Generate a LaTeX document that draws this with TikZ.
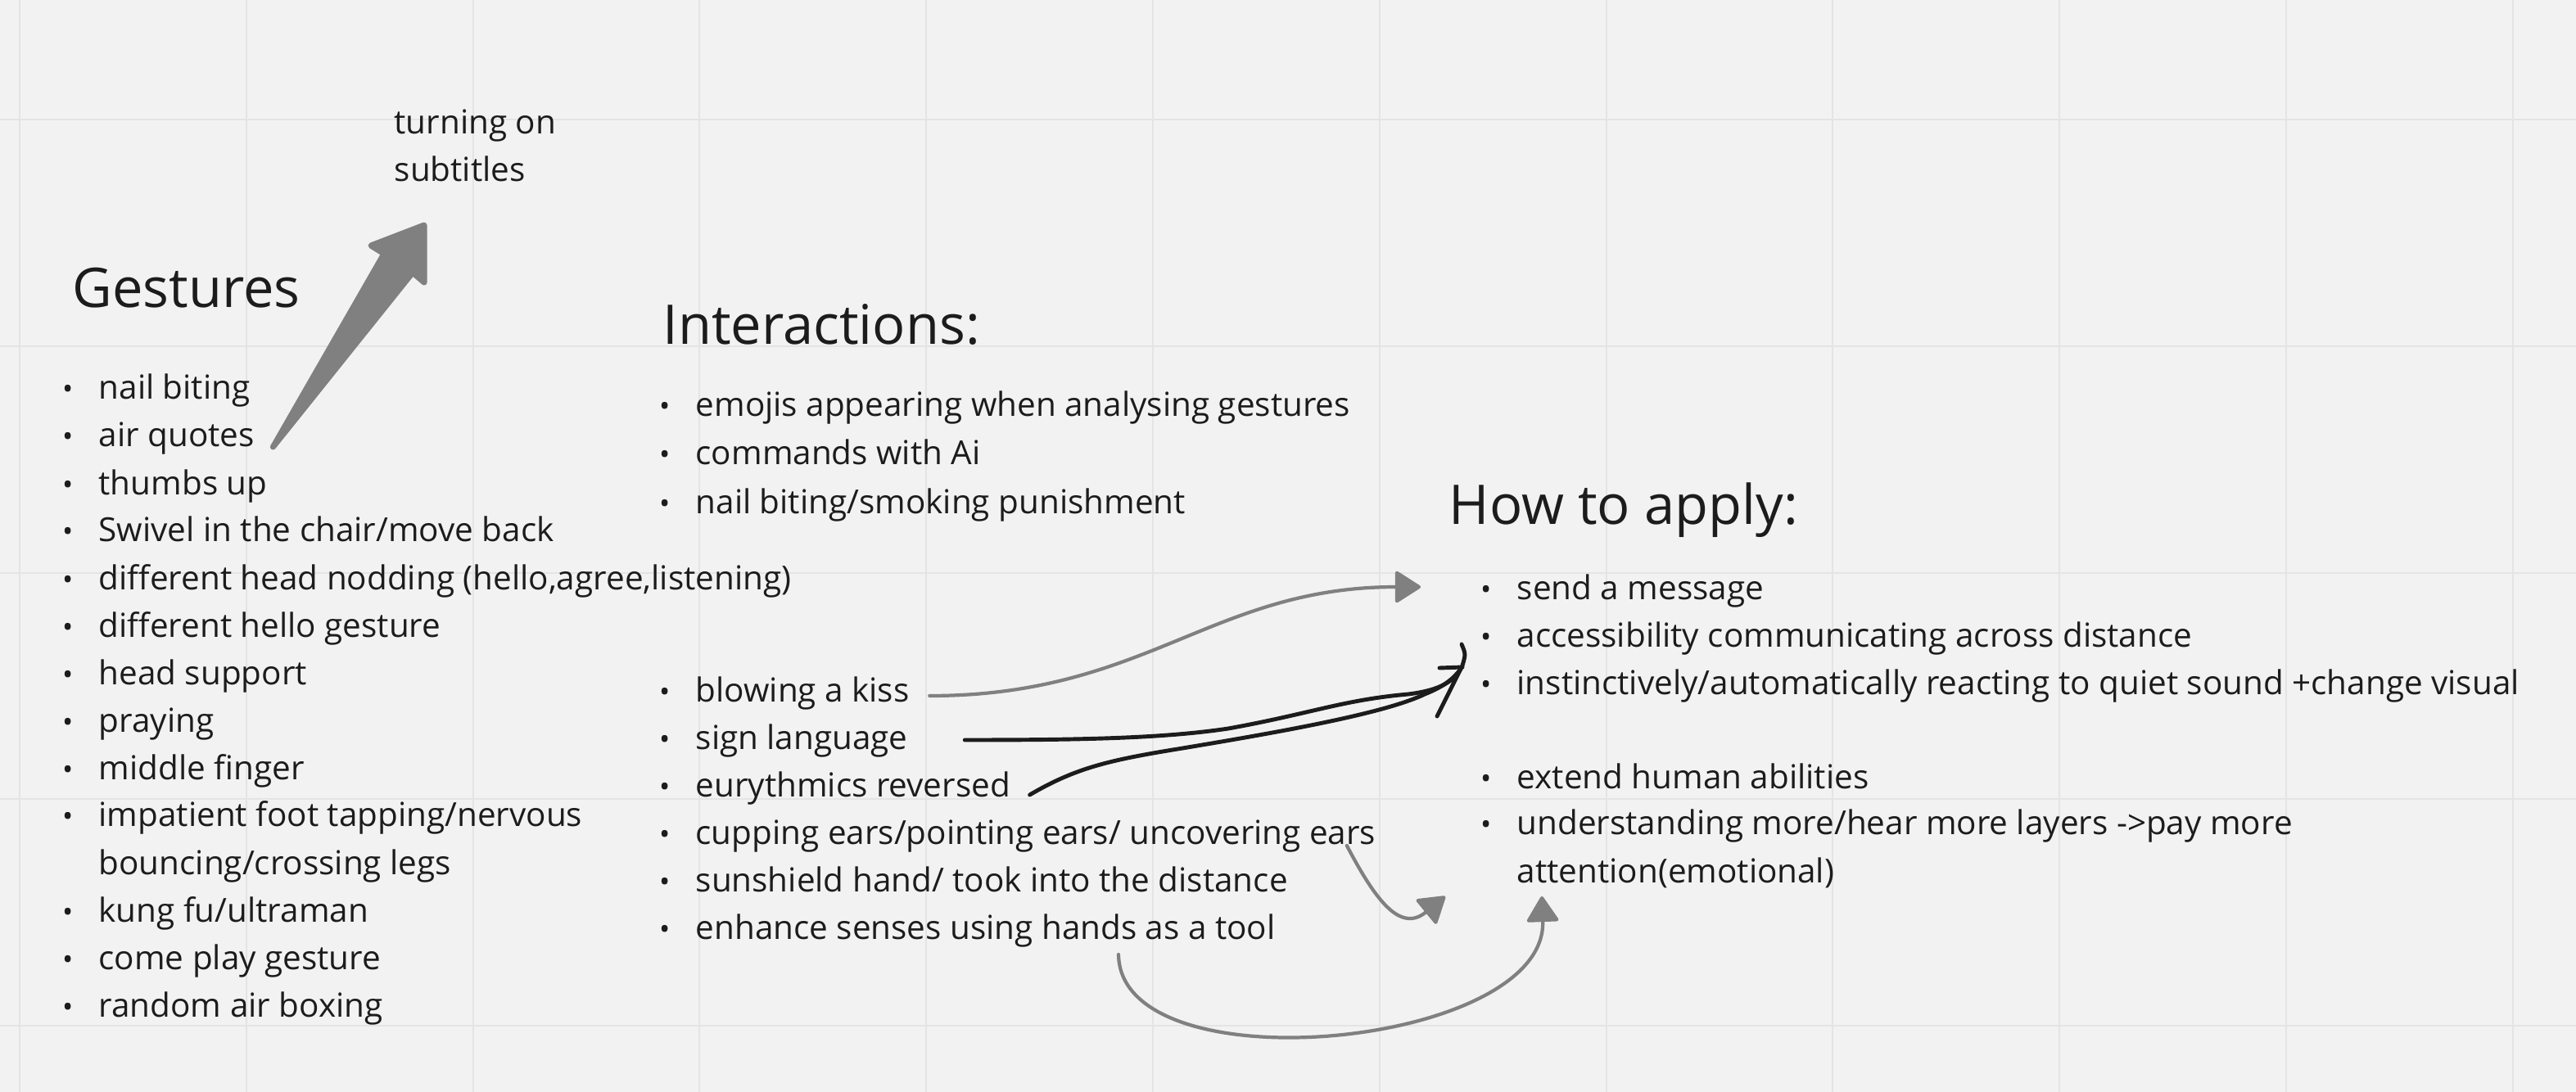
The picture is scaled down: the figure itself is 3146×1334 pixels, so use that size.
\documentclass[tikz,border=0pt]{standalone}
\usepackage{fontspec}
\setmainfont{Open Sans}
\usetikzlibrary{arrows.meta,calc}

\definecolor{paper}{HTML}{F2F2F2}
\definecolor{gridline}{HTML}{E4E4E4}
\definecolor{ink}{HTML}{1C1C1C}
\definecolor{pen}{HTML}{808080}

\newcommand{\listfont}{\fontsize{11.5pt}{16.5pt}\selectfont}
\newcommand{\headfont}{\fontsize{19pt}{23pt}\selectfont}
\newcommand{\bul}{\llap{{\fontsize{10pt}{10pt}\selectfont •}\hspace{8.9pt}}}

\begin{document}
\begin{tikzpicture}[
    x=0.01cm, y=-0.01cm,
    item/.style={anchor=base west, inner sep=0pt, align=left, font=\listfont, text=ink},
    head/.style={anchor=base west, inner sep=0pt, font=\headfont, text=ink},
    soft/.style={draw=pen, line width=1.2pt, line cap=round,
        -{Triangle[length=3.3mm, width=4.1mm, round]}},
    inkline/.style={draw=ink, line width=1.4pt, line cap=round, line join=round}
]

    %------------------------------------------------
    % board
    %------------------------------------------------
    \useasboundingbox (0,0) rectangle (3146,1334);
    \fill[paper] (0,0) rectangle (3146,1334);
    \foreach \k in {0,...,11}
        \draw[gridline, line width=0.6pt] ({24+276.8*\k},0) -- ({24+276.8*\k},1334);
    \foreach \k in {0,...,4}
        \draw[gridline, line width=0.6pt] (0,{146+276.8*\k}) -- (3146,{146+276.8*\k});

    %------------------------------------------------
    % Gestures (two-line items sit on their last baseline)
    %------------------------------------------------
    \node[head] (gest) at (88,376) {Gestures};
    \foreach \i/\y/\t in {1/488/{nail biting}, 2/546/{air quotes}, 3/604/{thumbs up},
        4/662/{Swivel in the chair/move back},
        5/720/{different head nodding (hello,agree,listening)},
        6/778/{different hello gesture}, 7/836/{head support}, 8/894/{praying},
        9/952/{middle finger},
        10/1068/{impatient foot tapping/nervous\\bouncing/crossing legs},
        11/1126/{kung fu/ultraman}, 12/1184/{come play gesture},
        13/1242/{random air boxing}}
        \node[item] (g\i) at (120,\y) {\bul\t};

    \node[item] (subs) at (481,222) {turning on\\subtitles};

    % fat arrow to subtitles
    \coordinate (fatTail) at ($(g2.base east)+(22,0)$);
    \coordinate (fatTip) at (518,275);
    \fill[pen, draw=pen, line width=2pt, line join=round]
        (fatTail) -- ($(fatTip)+(-49,35)$) -- ($(fatTip)+(-65,25)$) -- (fatTip)
        -- ($(fatTip)+(0,70)$) -- ($(fatTip)+(-14,58)$) -- cycle;

    %------------------------------------------------
    % Interactions
    %------------------------------------------------
    \node[head] (inter) at (809,421) {Interactions:};
    \foreach \i/\y/\t in {1/509/{emojis appearing when analysing gestures},
        2/568/{commands with Ai}, 3/627/{nail biting/smoking punishment}}
        \node[item] (i\i) at (849,\y) {\bul\t};

    \foreach \i/\y/\t in {1/857/{blowing a kiss}, 2/915/{sign language},
        3/973/{eurythmics reversed},
        4/1031/{cupping ears/pointing ears/ uncovering ears},
        5/1089/{sunshield hand/ took into the distance},
        6/1147/{enhance senses using hands as a tool}}
        \node[item] (k\i) at (849,\y) {\bul\t};

    %------------------------------------------------
    % How to apply
    %------------------------------------------------
    \node[head] (apply) at (1769,640) {How to apply:};
    \foreach \i/\y/\t in {1/732/{send a message},
        2/790/{accessibility communicating across distance},
        3/848/{instinctively/automatically reacting to quiet sound +change visual},
        4/963/{extend human abilities},
        5/1078/{understanding more/hear more layers ->pay more\\attention(emotional)}}
        \node[item] (a\i) at (1852,\y) {\bul\t};

    %------------------------------------------------
    % connectors
    %------------------------------------------------
    \coordinate (kissTip) at (1735,717);
    \coordinate (blackTip) at (1784,817);
    \coordinate (cupTip) at (1765,1095);
    \coordinate (toolTip) at (1883,1095);

    \draw[soft] ($(k1.base east)+(24,-7)$) .. controls (1400,850) and (1480,717) .. (kissTip);

    \draw[inkline] ($(k2.base east)+(69,-11)$) .. controls (1320,904) and (1420,902) .. (1500,890)
        .. controls (1600,872) and (1640,855) .. (1720,848)
        .. controls (1760,843) and (1775,832) .. (blackTip);
    \draw[inkline] ($(k3.base east)+(23,-2)$) .. controls (1310,940) and (1350,930) .. (1420,918)
        .. controls (1560,895) and (1690,872) .. (1740,848)
        .. controls (1765,838) and (1776,828) .. (blackTip);
    % hand drawn head
    \draw[inkline] ($(blackTip)+(-26,-1)$) -- ($(blackTip)+(2,-2)$);
    \draw[inkline] ($(blackTip)+(-29,58)$) -- ($(blackTip)+(2,-4)$)
        .. controls ($(blackTip)+(6,-18)$) .. ($(blackTip)+(1,-30)$);

    \draw[soft] ($(k4.base east)+(-36,2)$) .. controls (1680,1100) and (1710,1140) .. (cupTip);
    \draw[soft] ($(k6.base west)+(517,19)$) .. controls (1368,1330) and (1890,1280) .. (toolTip);

\end{tikzpicture}
\end{document}
